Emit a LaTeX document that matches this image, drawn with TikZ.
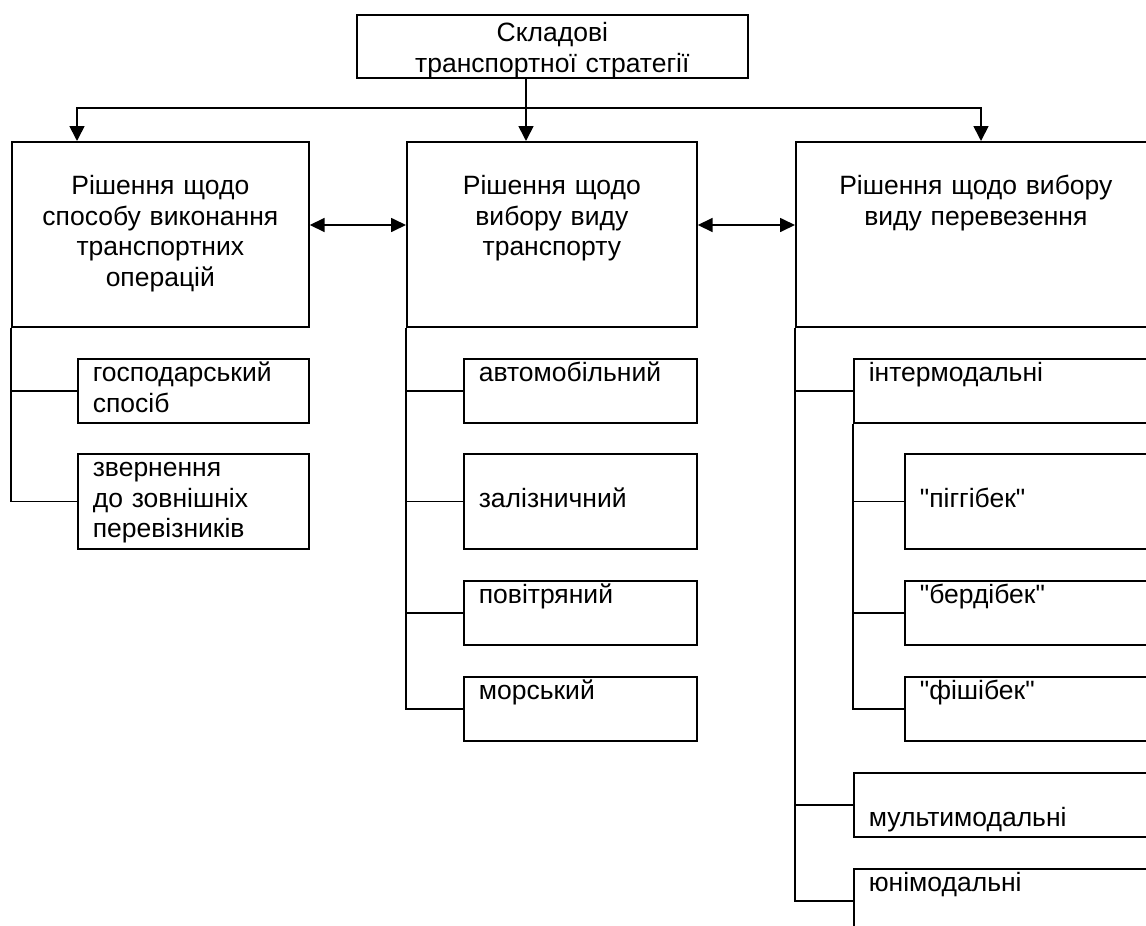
\documentclass[tikz,border=0pt]{standalone}
\usepackage{fontspec}
\setmainfont{Liberation Sans}
\newfontfamily\arialf{Liberation Sans}
\usetikzlibrary{arrows.meta}
\newcommand\fs{\arialf\fontsize{26.5}{30.5}\selectfont}
\tikzset{
  box/.style={draw, line width=1.7pt, inner xsep=15pt, inner ysep=0pt, font=\fs, anchor=north west},
  big/.style={box, align=center},
  leaf/.style={box, align=left},
  wire/.style={line width=1.7pt},
  arr/.style={wire, -{Triangle[length=15pt,width=15pt]}},
  darr/.style={wire, {Triangle[length=15pt,width=14pt]}-{Triangle[length=15pt,width=14pt]}},
}
\begin{document}
\begin{tikzpicture}[x=1pt,y=-1pt]
\useasboundingbox (0,0) rectangle (1146,926);
\clip (0,0) rectangle (1146,926);
% top
\node[big, minimum width=391, minimum height=63, text width=361] (T) at (356,14)
  {\rule{0pt}{27pt}Складові\\транспортної стратегії};
% main boxes
\node[big, minimum width=297, minimum height=185, text width=267] (L) at (11,141)
  {\strut\\Рішення щодо\\способу виконання\\транспортних\\операцій\\\strut};
\node[big, minimum width=290, minimum height=185, text width=260] (M) at (406,141)
  {\strut\\Рішення щодо\\вибору виду\\транспорту\\\strut\\\strut};
\node[big, minimum width=360, minimum height=185, text width=330] (R) at (795,141)
  {\strut\\Рішення щодо вибору\\виду перевезення\\\strut\\\strut\\\strut};
% left leaves
\node[leaf, minimum width=231, minimum height=64, text width=201] (c1) at (77,358)
  {\strut господарський\\спосіб\strut};
\node[leaf, minimum width=231, minimum height=95, text width=201] (c2) at (77,453)
  {\strut звернення\\до зовнішніх\\перевізників\strut};
% middle leaves
\node[leaf, minimum width=233, minimum height=64, text width=203] (m1) at (463,358)
  {\strut автомобільний\\\strut};
\node[leaf, minimum width=233, minimum height=95, text width=203] (m2) at (463,453)
  {\strut\\залізничний\\\strut};
\node[leaf, minimum width=233, minimum height=64, text width=203] (m3) at (463,580)
  {\strut повітряний\\\strut};
\node[leaf, minimum width=233, minimum height=64, text width=203] (m4) at (463,676)
  {\strut морський\\\strut};
% right leaves
\node[leaf, minimum width=302, minimum height=64, text width=272] (r1) at (853,358)
  {\strut інтермодальні\\\strut};
\node[leaf, minimum width=251, minimum height=95, text width=221] (p1) at (904,453)
  {\strut\\"піггібек"\\\strut};
\node[leaf, minimum width=251, minimum height=64, text width=221] (p2) at (904,580)
  {\strut "бердібек"\\\strut};
\node[leaf, minimum width=251, minimum height=64, text width=221] (p3) at (904,676)
  {\strut "фішібек"\\\strut};
\node[leaf, minimum width=302, minimum height=64, text width=272] (r2) at (853,772)
  {\strut\\мультимодальні\strut};
\node[leaf, minimum width=302, minimum height=64, text width=272] (r3) at (853,868)
  {\strut юнімодальні\\\strut};
% bus
\coordinate (bx) at (526,108);
\coordinate (bl) at (77,108);
\coordinate (br) at (981,108);
\draw[arr] (T.south -| bx) -- (bx |- M.north);
\draw[arr] (bx) -| (bl |- L.north);
\draw[arr] (bx) -| (br |- R.north);
% double arrows
\coordinate (hy) at (0,225);
\draw[darr] (L.east |- hy) -- (M.west |- hy);
\draw[darr] (M.east |- hy) -- (R.west |- hy);
% trunks
\draw[wire] (L.south west) |- (c1.west);
\draw[wire] (L.south west) |- (c2.west);
\draw[wire] (M.south west) |- (m1.west);
\draw[wire] (M.south west) |- (m2.west);
\draw[wire] (M.south west) |- (m3.west);
\draw[wire] (M.south west) |- (m4.west);
\draw[wire] (R.south west) |- (r1.west);
\draw[wire] (R.south west) |- (r2.west);
\draw[wire] (R.south west) |- (r3.west);
\draw[wire] (r1.south west) |- (p1.west);
\draw[wire] (r1.south west) |- (p2.west);
\draw[wire] (r1.south west) |- (p3.west);
\end{tikzpicture}
\end{document}
